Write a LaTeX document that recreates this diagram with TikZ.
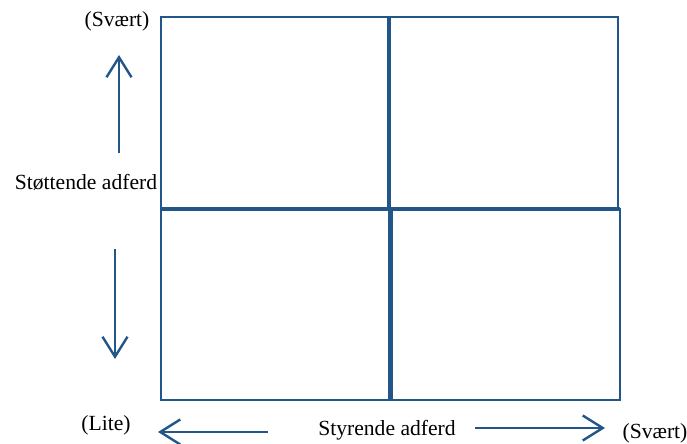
\documentclass[tikz,border=0pt]{standalone}
\usepackage{fontspec}
\setmainfont{Liberation Serif}
\usetikzlibrary{arrows.meta}
\definecolor{boxblue}{RGB}{34,86,136}
\newcommand{\kvadrant}[4]{ \draw[gridline] ( #1 , #2 ) rectangle ( #3 , #4 );}
\newcommand{\etikett}[4]{\node[lbl] (#1) at ( #2 , #3 ) {#4};}

\begin{document}
\begin{tikzpicture}[x=0.5pt,y=-0.5pt,
    gridline/.style={draw=boxblue,line width=1.1pt},
    midline/.style={draw=boxblue,line width=1.7pt},
    pil/.style={draw=boxblue,line width=1.2pt,-{Straight Barb[length=10pt,width=12.5pt,line width=1.2pt]}},
    lbl/.style={inner sep=0pt,font=\fontsize{10.8}{13}\selectfont}]
    \useasboundingbox (0,0) rectangle (687,444);
    % top row
    \kvadrant{161}{17}{389}{209}
    \kvadrant{389}{17}{618}{209}
    % bottom row
    \kvadrant{161}{209}{389}{400}
    \kvadrant{391}{209}{620}{400}
    % middle cross
    \draw[midline] (389,17) -- (389,209);
    \draw[midline] (391,209) -- (391,400);
    \draw[midline] (161,209) -- (620,209);

    % vertical axis
    \etikett{svaertOpp}{117}{21}{(Svært)}
    \etikett{stottende}{86}{182}{Støttende adferd}
    \coordinate (oppFra) at (119,153);
    \coordinate (oppTil) at (119,55);
    \coordinate (nedFra) at (115,249);
    \coordinate (nedTil) at (115,359);
    \draw[pil] (oppFra) -- (oppTil);
    \draw[pil] (nedFra) -- (nedTil);

    % horizontal axis
    \etikett{lite}{106}{425}{(Lite)}
    \etikett{styrende}{387}{430}{Styrende adferd}
    \etikett{svaertHoyre}{655}{433}{(Svært)}
    \coordinate (venstreFra) at (268,432);
    \coordinate (venstreTil) at (158,432);
    \coordinate (hoyreFra) at (475,428);
    \coordinate (hoyreTil) at (605,428);
    \draw[pil] (venstreFra) -- (venstreTil);
    \draw[pil] (hoyreFra) -- (hoyreTil);
\end{tikzpicture}
\end{document}
